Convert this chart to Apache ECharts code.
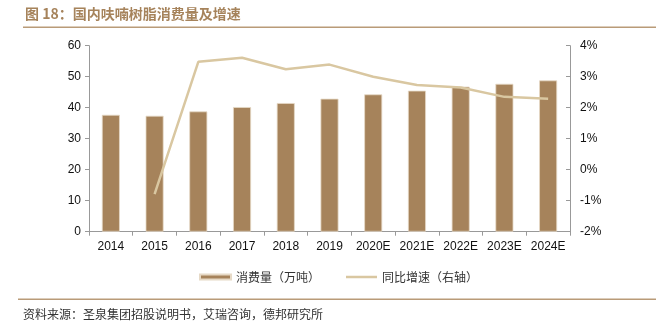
<!DOCTYPE html>
<html><head><meta charset="utf-8">
<script src="https://cdn.jsdelivr.net/npm/echarts@6/dist/echarts.min.js"></script>
<style>html,body{margin:0;padding:0;background:#fff}#c{width:656px;height:334px}</style>
</head><body><div id="c"></div>
<script>
var categories = ['2014','2015','2016','2017','2018','2019','2020E','2021E','2022E','2023E','2024E'];
var consumption = [37.7, 37.4, 38.8, 40.2, 41.5, 42.9, 44.3, 45.5, 46.8, 47.7, 48.8];
var growth = [null, -0.79, 3.48, 3.61, 3.24, 3.39, 3.0, 2.73, 2.65, 2.35, 2.29];
var titleText = '图 18：国内呋喃树脂消费量及增速';
var sourceText = '资料来源：圣泉集团招股说明书，艾瑞咨询，德邦研究所';
var cjk = '"Noto Sans CJK SC", sans-serif';
var chart = echarts.init(document.getElementById('c'), null, {renderer:'canvas'});
chart.setOption({
  animation: false,
  grid: {left: 89, right: 86, top: 45.7, bottom: 102.3},
  legend: {
    top: 266, left: 194, itemGap: 26, itemWidth: 31, itemHeight: 5,
    textStyle: {fontFamily: cjk, fontSize: 12, color: '#333'},
    data: [{name:'消费量（万吨）', icon:'rect'},
           {name:'同比增速（右轴）', icon:'path://M0,0L62,0L62,5L0,5Z', itemStyle:{color:'#D9C7A1'}}]
  },
  graphic: [
    {type:'text', left: 25, top: 7, style:{text: titleText, font: 'bold 14px ' + cjk, fill:'#A6835B'}},
    {type:'rect', shape:{x:23, y:26.5, width:633, height:1.5}, style:{fill:'#B99B78'}},
    {type:'rect', shape:{x:18, y:298.5, width:638, height:1.5}, style:{fill:'#B99B78'}},
    {type:'text', left: 23, top: 308, style:{text: sourceText, font: '12px ' + cjk, fill:'#333'}}
  ],
  xAxis: {
    type: 'category', data: categories,
    axisLine: {lineStyle:{color:'#999'}},
    axisTick: {show:true, length:4, lineStyle:{color:'#999'}},
    axisLabel: {interval: 0, color:'#111', fontSize: 12, fontFamily: 'Liberation Sans, Arial', margin: 9}
  },
  yAxis: [
    {type:'value', min:0, max:60, interval:10, splitLine:{show:false},
     axisLine:{show:true, lineStyle:{color:'#999'}},
     axisTick:{show:true, length:4, lineStyle:{color:'#999'}},
     axisLabel:{color:'#111', fontSize: 12, fontFamily:'Liberation Sans, Arial', margin: 8}},
    {type:'value', min:-2, max:4, interval:1, splitLine:{show:false},
     axisLine:{show:true, lineStyle:{color:'#999'}},
     axisTick:{show:true, inside:true, length:4, lineStyle:{color:'#999'}},
     axisLabel:{color:'#111', fontSize: 12, fontFamily:'Liberation Sans, Arial', margin: 10, formatter: '{value}%'}}
  ],
  series: [
    {name:'消费量（万吨）', type:'bar', data: consumption, barWidth: 18,
     itemStyle:{color:'#A6835B', borderColor:'#E6D9C6', borderWidth:0.8}},
    {name:'同比增速（右轴）', type:'line', yAxisIndex:1, data: growth, symbol:'none',
     lineStyle:{color:'#D9C7A1', width:2.5}, itemStyle:{color:'#D9C7A1'}}
  ]
});
</script></body></html>
